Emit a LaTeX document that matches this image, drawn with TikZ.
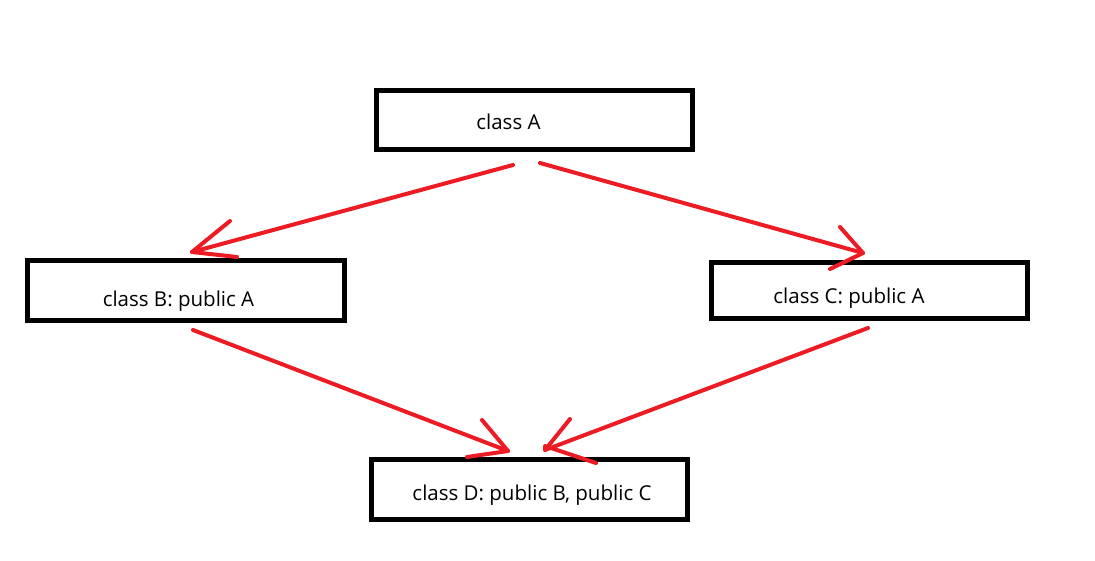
\documentclass[tikz,border=0pt]{standalone}
\usepackage{fontspec}
\setmainfont{Open Sans}
\begin{document}
\begin{tikzpicture}[x=1pt,y=-1pt,
  classbox/.style={draw=black,line width=5pt,minimum width=316pt,inner sep=0pt,fill=white},
  lbl/.style={anchor=base,inner sep=0pt,font=\fontsize{20.5}{24}\selectfont},
  redline/.style={draw={rgb,255:red,237;green,28;blue,36},line width=4pt,line cap=round,line join=round}]
\useasboundingbox (0,0) rectangle (1095,561);
\fill[white] (0,0) rectangle (1095,561);
% boxes
\node[classbox,minimum height=58.4pt] (A) at (534.5,120) {};
\node[classbox,minimum width=317pt,minimum height=60pt] (B) at (186,290.8) {};
\node[classbox,minimum height=56pt] (C) at (869.5,290.3) {};
\node[classbox,minimum height=59.4pt] (D) at (529.5,489.5) {};
% labels
\node[lbl] (tA) at (508.5,130) {class A};
\node[lbl] (tB) at (178.5,307) {class B: public A};
\node[lbl] (tC) at (849,303.3) {class C: public A};
\node[lbl] (tD) at (532,500) {class D: public B, public C};
% arrow end points
\coordinate (ab0) at (513,165);
\coordinate (ab1) at (192,252);
\coordinate (ab2) at (230,221);
\coordinate (ab3) at (237,257);
\coordinate (ac0) at (540,163);
\coordinate (ac1) at (863,253);
\coordinate (ac2) at (840,227);
\coordinate (ac3) at (830,269);
\coordinate (bd0) at (193,330);
\coordinate (bd1) at (508,451);
\coordinate (bd2) at (482,420);
\coordinate (bd3) at (467,457);
\coordinate (cd0) at (868,328);
\coordinate (cd1) at (545,450);
\coordinate (cd2) at (570,419);
\coordinate (cd3) at (596,463);
% arrows
\draw[redline] (ab0) -- (ab1);
\draw[redline] (ab2) -- (ab1) -- (ab3);
\draw[redline] (ac0) -- (ac1);
\draw[redline] (ac2) -- (ac1) -- (ac3);
\draw[redline] (bd0) -- (bd1);
\draw[redline] (bd2) -- (bd1) -- (bd3);
\draw[redline] (cd0) -- (cd1);
\draw[redline] (cd2) -- (cd1) -- ([yshift=4pt]cd1) -- (cd3);
\end{tikzpicture}
\end{document}
